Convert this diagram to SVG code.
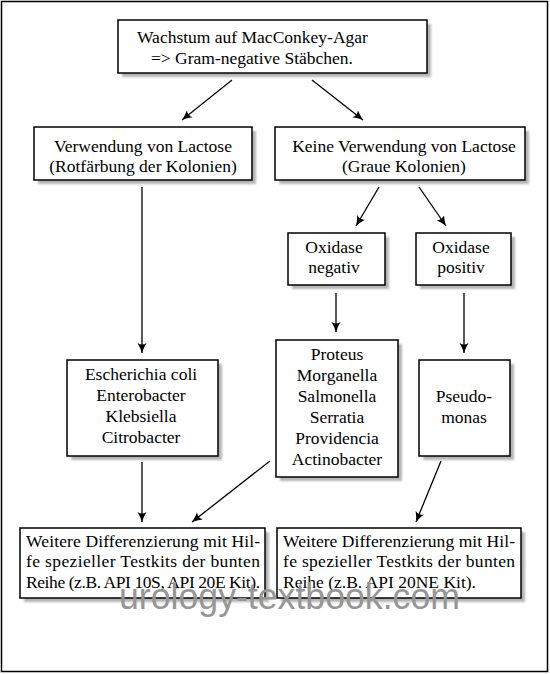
<svg xmlns="http://www.w3.org/2000/svg" width="550" height="674" viewBox="0 0 550 674">
<style>
.box{fill:#fff;stroke:#000;stroke-width:1.5}
.sh{fill:#b4b4b4;filter:url(#blur)}
text{font-family:"Liberation Serif","Times New Roman",serif;font-size:17.5px;fill:#000}
.c{text-anchor:middle}
.ln{stroke:#000;stroke-width:1.3;fill:none;marker-end:url(#ah)}
.wm{font-family:"Liberation Sans",Arial,sans-serif;font-size:36px;fill:#969696}
</style>
<defs>
<filter id="blur" x="-10%" y="-10%" width="120%" height="120%"><feGaussianBlur stdDeviation="0.8"/></filter>
<marker id="ah" markerWidth="12" markerHeight="10" refX="10" refY="5" orient="auto" markerUnits="userSpaceOnUse">
<path d="M0,0.5 Q5,3.5 10,5 Q5,6.5 0,9.5 Q3,5 0,0.5 Z" fill="#000"/>
</marker>
</defs>
<rect x="1.5" y="1.5" width="546" height="670" fill="#fff" stroke="#000" stroke-width="1.5"/>

<g id="connectors">
<line class="ln" x1="232" y1="80" x2="182" y2="120"/>
<line class="ln" x1="312" y1="80" x2="363" y2="120"/>
<line class="ln" x1="142" y1="187" x2="142" y2="353"/>
<line class="ln" x1="379" y1="187" x2="356" y2="226"/>
<line class="ln" x1="419" y1="187" x2="446" y2="226"/>
<line class="ln" x1="336" y1="293" x2="336" y2="332"/>
<line class="ln" x1="464" y1="293" x2="464" y2="353"/>
<line class="ln" x1="142" y1="462" x2="142" y2="522"/>
<line class="ln" x1="270" y1="461" x2="192" y2="522"/>
<line class="ln" x1="441" y1="461" x2="416" y2="522"/>
</g>

<g id="n-top">
<rect class="sh" x="122" y="24" width="309" height="53"/>
<rect class="box" x="118" y="20" width="309" height="53"/>
<text x="137" y="43">Wachstum auf MacConkey-Agar</text>
<text x="151" y="64">=&gt; Gram-negative Stäbchen.</text>
</g>

<g id="n-lactose">
<rect class="sh" x="38" y="131" width="218" height="53"/>
<rect class="box" x="34" y="127" width="218" height="53"/>
<text class="c" x="143" y="152">Verwendung von Lactose</text>
<text class="c" x="143" y="172">(Rotfärbung der Kolonien)</text>
</g>

<g id="n-nolactose">
<rect class="sh" x="279" y="131" width="250" height="53"/>
<rect class="box" x="275" y="127" width="250" height="53"/>
<text class="c" x="404" y="152">Keine Verwendung von Lactose</text>
<text class="c" x="404" y="172">(Graue Kolonien)</text>
</g>

<g id="n-oxneg">
<rect class="sh" x="292" y="237" width="97" height="52"/>
<rect class="box" x="288" y="233" width="97" height="52"/>
<text class="c" x="334" y="253">Oxidase</text>
<text class="c" x="334" y="273">negativ</text>
</g>

<g id="n-oxpos">
<rect class="sh" x="420" y="237" width="95" height="52"/>
<rect class="box" x="416" y="233" width="95" height="52"/>
<text class="c" x="461" y="253">Oxidase</text>
<text class="c" x="461" y="273">positiv</text>
</g>

<g id="n-ecoli">
<rect class="sh" x="71" y="364" width="151" height="96"/>
<rect class="box" x="67" y="360" width="151" height="96"/>
<text class="c" x="141" y="380">Escherichia coli</text>
<text class="c" x="141" y="401">Enterobacter</text>
<text class="c" x="141" y="422">Klebsiella</text>
<text class="c" x="141" y="443">Citrobacter</text>
</g>

<g id="n-proteus">
<rect class="sh" x="280" y="344" width="122" height="137"/>
<rect class="box" x="276" y="340" width="122" height="137"/>
<text class="c" x="337" y="360">Proteus</text>
<text class="c" x="337" y="381">Morganella</text>
<text class="c" x="337" y="402">Salmonella</text>
<text class="c" x="337" y="423">Serratia</text>
<text class="c" x="337" y="444">Providencia</text>
<text class="c" x="337" y="465">Actinobacter</text>
</g>

<g id="n-pseudo">
<rect class="sh" x="423" y="364" width="91" height="96"/>
<rect class="box" x="419" y="360" width="91" height="96"/>
<text class="c" x="464" y="402">Pseudo-</text>
<text class="c" x="464" y="423">monas</text>
</g>

<g id="n-diff1">
<rect class="sh" x="24" y="532" width="245" height="70"/>
<rect class="box" x="20" y="528" width="245" height="70"/>
<text x="26" y="547" textLength="234" lengthAdjust="spacing">Weitere Differenzierung mit Hil-</text>
<text x="26" y="567" textLength="234" lengthAdjust="spacing">fe spezieller Testkits der bunten</text>
<text x="26" y="588" textLength="234" lengthAdjust="spacing">Reihe (z.B. API 10S, API 20E Kit).</text>
</g>

<g id="n-diff2">
<rect class="sh" x="281" y="532" width="244" height="70"/>
<rect class="box" x="277" y="528" width="244" height="70"/>
<text x="283" y="547" textLength="232" lengthAdjust="spacing">Weitere Differenzierung mit Hil-</text>
<text x="283" y="567" textLength="232" lengthAdjust="spacing">fe spezieller Testkits der bunten</text>
<text x="283" y="588">Reihe (z.B. API 20NE Kit).</text>
</g>

<text class="wm" x="119" y="609" textLength="341" lengthAdjust="spacingAndGlyphs">urology-textbook.com</text>
</svg>
